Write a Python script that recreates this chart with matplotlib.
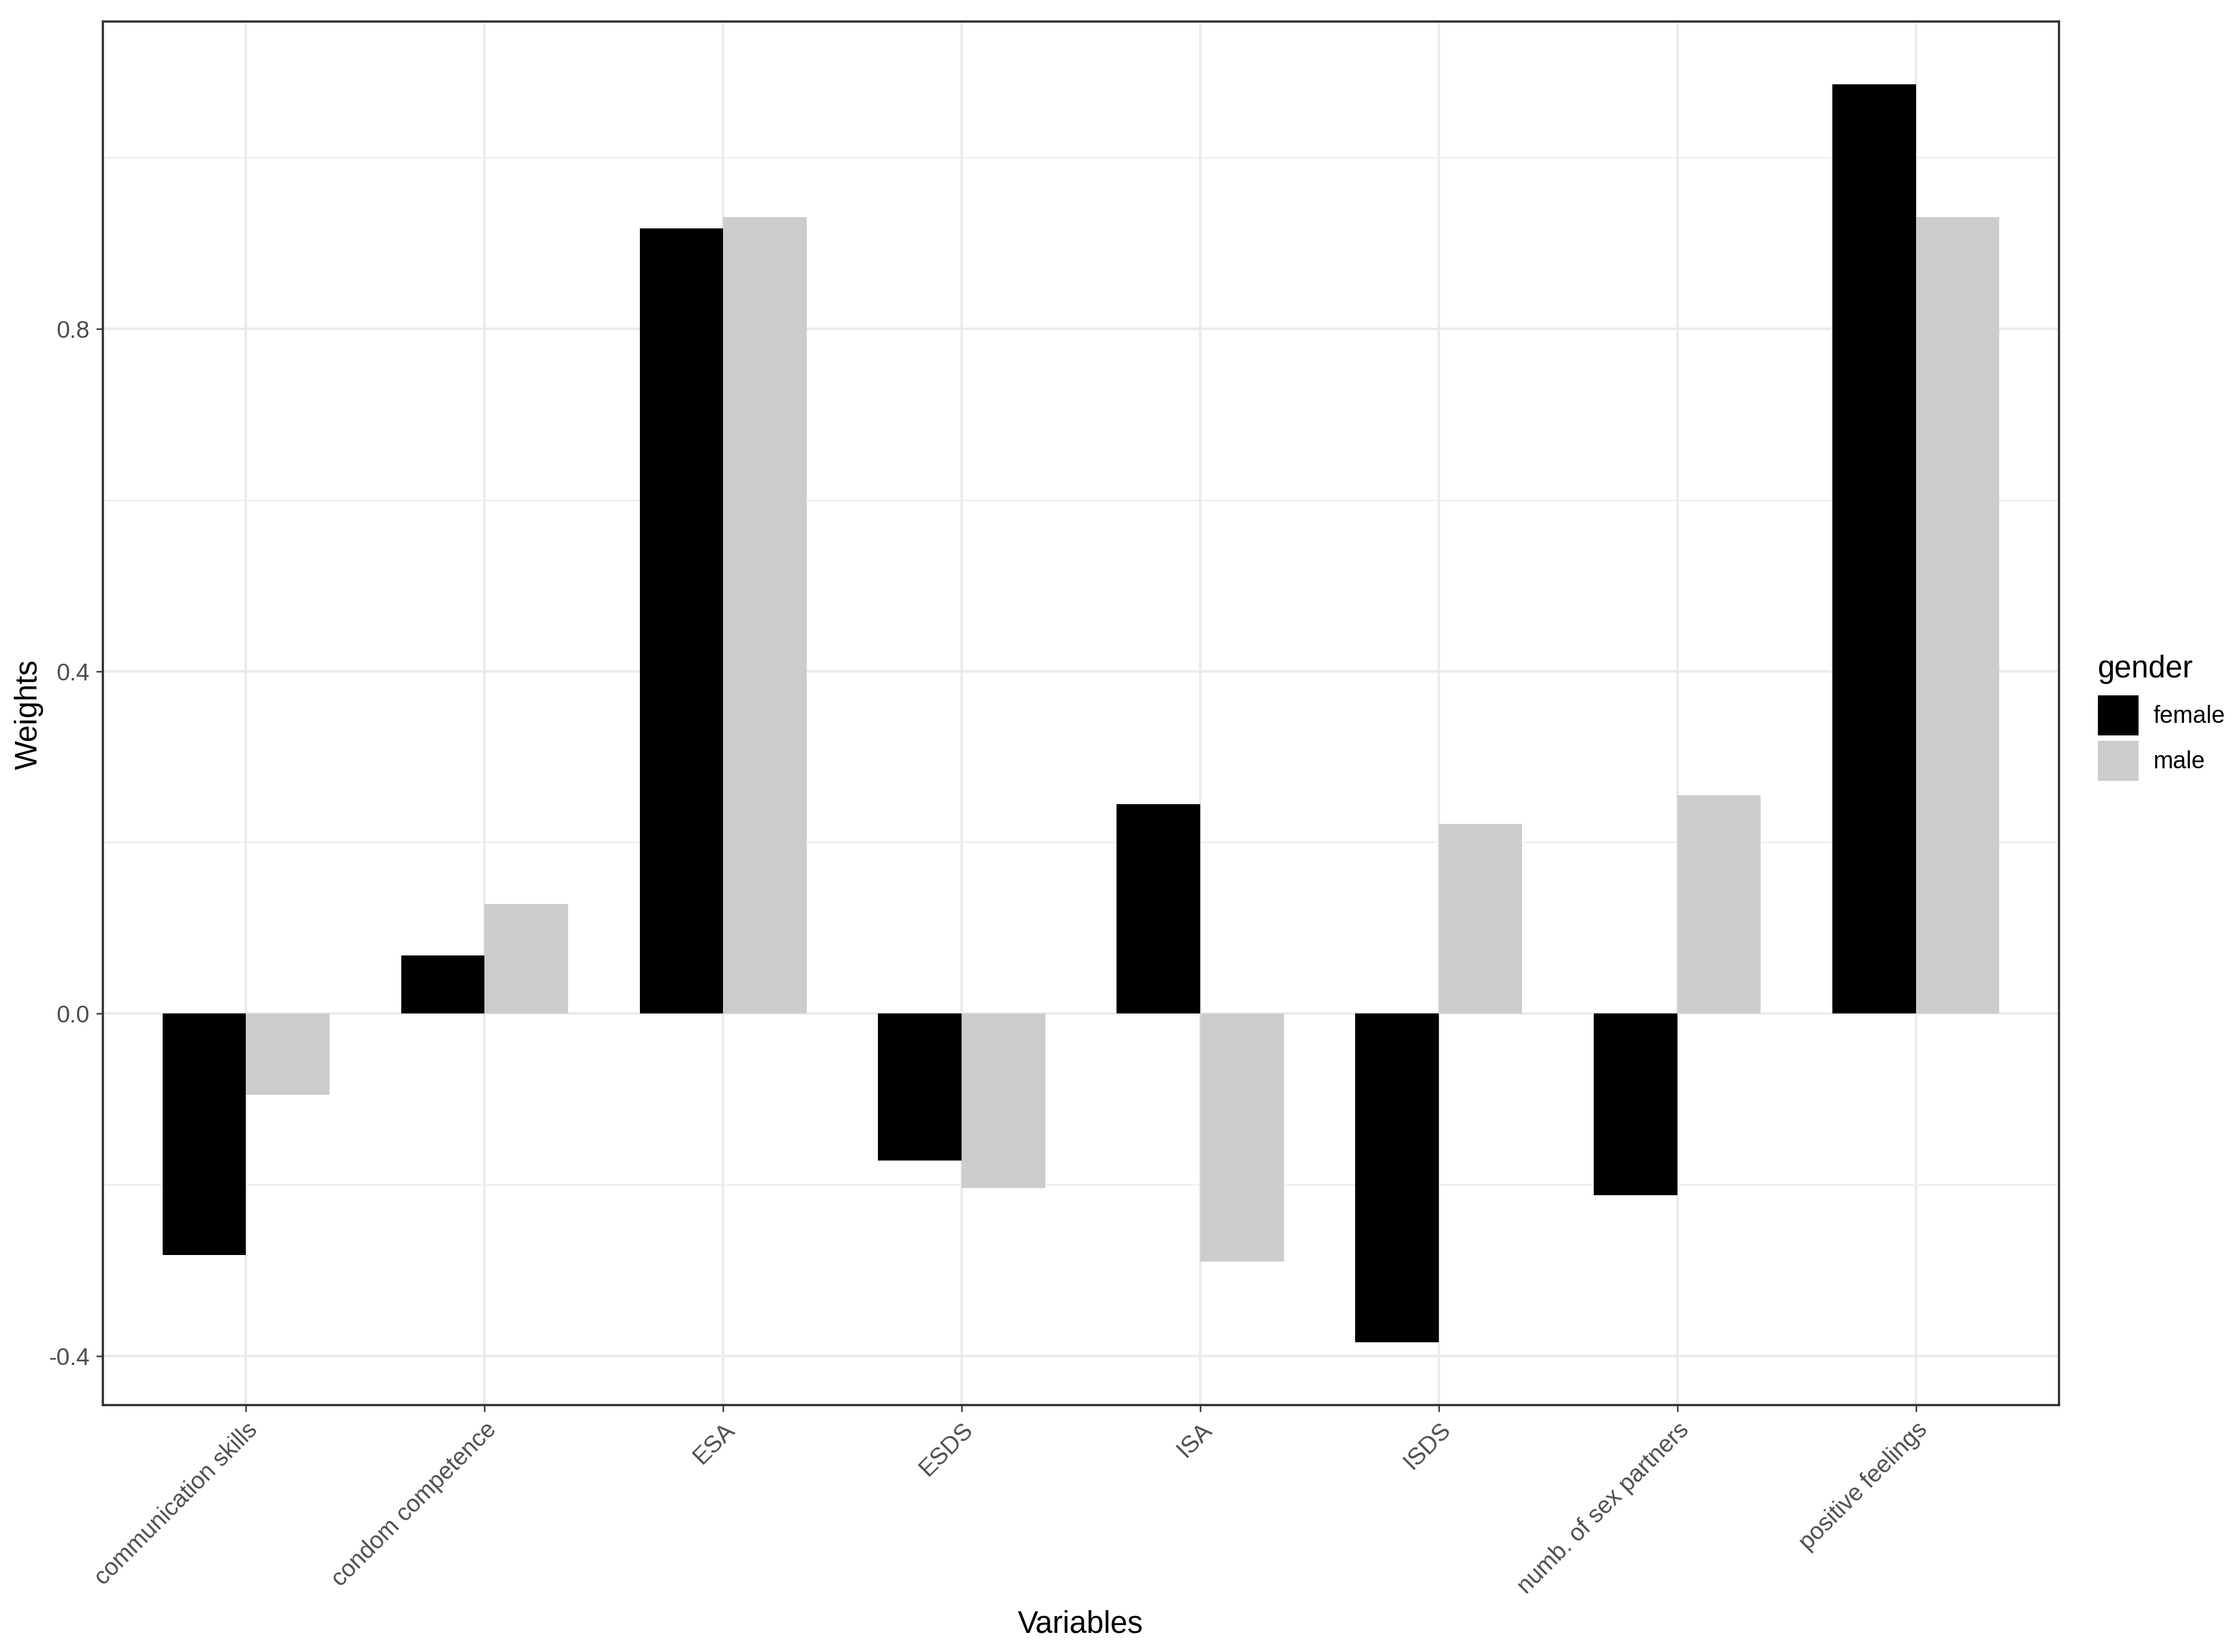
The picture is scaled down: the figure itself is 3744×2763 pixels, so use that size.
import numpy as np
import matplotlib
matplotlib.use("Agg")
import matplotlib.pyplot as plt
from matplotlib.patches import Patch

plt.rcParams['font.family'] = ['Liberation Sans', 'DejaVu Sans']

# data
variables = ["communication skills", "condom competence", "ESA", "ESDS",
             "ISA", "ISDS", "numb. of sex partners", "positive feelings"]
female = [-0.282, 0.068, 0.918, -0.172, 0.245, -0.384, -0.212, 1.086]
male = [-0.095, 0.128, 0.931, -0.204, -0.290, 0.222, 0.255, 0.931]
groups = ["female", "male"]
colors = ["#000000", "#CCCCCC"]

W, H = 3744, 2763
dpi = 300
fig = plt.figure(figsize=(W / dpi, H / dpi), dpi=dpi)
fig.patch.set_facecolor("white")

# panel position in pixels
left, right, top, bottom = 172, 3443, 36, 2350
ax = fig.add_axes([left / W, 1 - bottom / H, (right - left) / W, (bottom - top) / H])

x = np.arange(1, len(variables) + 1)
bw = 0.35
ax.bar(x - bw / 2, female, width=bw, color=colors[0], zorder=3)
ax.bar(x + bw / 2, male, width=bw, color=colors[1], zorder=3)

# ggplot-style expansion
ax.set_xlim(0.4, len(variables) + 0.6)
vals = female + male
lo, hi = min(vals), max(vals)
pad = (hi - lo) * 0.05
ax.set_ylim(lo - pad, hi + pad)

tick_fs = 9.6
title_fs = 12.3

ax.set_xticks(x)
ax.set_xticklabels(variables, rotation=45, ha="right", rotation_mode="anchor")
ax.set_yticks([-0.4, 0.0, 0.4, 0.8])
ax.set_yticklabels(["-0.4", "0.0", "0.4", "0.8"])
ax.set_yticks([-0.2, 0.2, 0.6, 1.0], minor=True)

# grid
ax.grid(True, which="major", color="#EBEBEB", linewidth=1.0, zorder=0)
ax.grid(True, which="minor", axis="y", color="#EBEBEB", linewidth=0.5, zorder=0)
ax.set_axisbelow(True)

ax.tick_params(axis="both", which="major", direction="out", length=2.75,
               width=0.6, color="#333333", labelcolor="#4D4D4D", labelsize=tick_fs, pad=2.5)
ax.tick_params(axis="y", which="minor", length=0)
for s in ax.spines.values():
    s.set_color("#333333")
    s.set_linewidth(0.9)

# axis titles
fig.text(48 / W, 1 - 1195 / H, "Weights", rotation=90, ha="center", va="center", fontsize=title_fs)
fig.text(1807 / W, 1 - 2717 / H, "Variables", ha="center", va="center", fontsize=title_fs)

# legend
handles = [Patch(facecolor=c, edgecolor="none") for c in colors]
leg = fig.legend(handles, groups, title="gender", loc="upper left",
                 bbox_to_anchor=(3508 / W, 1 - 1095 / H), frameon=False,
                 fontsize=tick_fs, title_fontsize=title_fs, handlelength=1.7, handleheight=2.2,
                 labelspacing=0.22, handletextpad=0.6, borderpad=0, borderaxespad=0)
leg._legend_box.align = "left"
leg._legend_box.sep = 4.5

fig.savefig("out.png", dpi=dpi, facecolor="white")
